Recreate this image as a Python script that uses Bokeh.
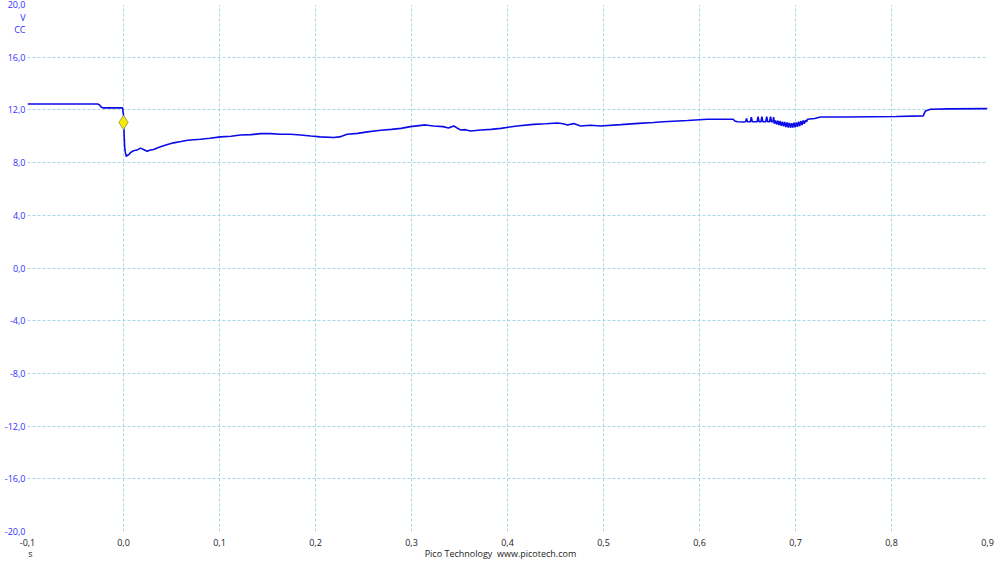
from bokeh.plotting import figure
from bokeh.models import Range1d, FixedTicker, CustomJSTickFormatter, LinearAxis
from bokeh.embed import file_html
from bokeh.resources import INLINE

# ---- data ----
x_ticks = [-0.1, 0.0, 0.1, 0.2, 0.3, 0.4, 0.5, 0.6, 0.7, 0.8, 0.9]
y_ticks = [-20, -16, -12, -8, -4, 0, 4, 8, 12, 16, 20]

time_s = [
    -0.100, -0.027, -0.025, -0.023, -0.021, -0.001, 0.0000, 0.0006, 0.0012, 0.0020,
    0.0030, 0.0039, 0.0055, 0.0073, 0.0104, 0.0140, 0.0177, 0.0208, 0.0247, 0.0280,
    0.0313, 0.0385, 0.0450, 0.0521, 0.0600, 0.0667, 0.0802, 0.0900, 0.1010, 0.1120,
    0.1219, 0.1330, 0.1427, 0.1530, 0.1635, 0.1740, 0.1844, 0.1950, 0.2050, 0.2190,
    0.2250, 0.2330, 0.2440, 0.2540, 0.2680, 0.2790, 0.2890, 0.2990, 0.3146, 0.3230,
    0.3330, 0.3385, 0.3440, 0.3470, 0.3510, 0.3560, 0.3615, 0.3720, 0.3830, 0.3930,
    0.4100, 0.4270, 0.4400, 0.4520, 0.4580, 0.4625, 0.4690, 0.4760, 0.4865, 0.4970,
    0.5180, 0.5365, 0.5520, 0.5625, 0.5875, 0.6080, 0.6250, 0.6350, 0.6370, 0.6396,
    0.6460, 0.6480, 0.6490, 0.6500, 0.6530, 0.6540, 0.6550, 0.6600, 0.6610, 0.6620,
    0.6640, 0.6650, 0.6660, 0.6690, 0.6700, 0.6710, 0.6730, 0.6740, 0.6750, 0.6765,
    0.6772, 0.6780, 0.6792, 0.6804, 0.6816, 0.6828, 0.6840, 0.6852, 0.6864, 0.6876,
    0.6888, 0.6900, 0.6912, 0.6924, 0.6936, 0.6948, 0.6960, 0.6972, 0.6984, 0.6996,
    0.7008, 0.7020, 0.7032, 0.7044, 0.7056, 0.7068, 0.7080, 0.7092, 0.7104, 0.7116,
    0.7125, 0.7200, 0.7260, 0.7520, 0.7800, 0.8050, 0.8330, 0.8354, 0.8406, 0.8600,
    0.9000,
]
voltage_v = [
    12.45, 12.45, 12.38, 12.20, 12.15, 12.15, 11.60, 10.20, 9.20, 8.75,
    8.45, 8.56, 8.60, 8.76, 8.90, 8.95, 9.10, 9.00, 8.86, 8.95,
    9.00, 9.20, 9.35, 9.50, 9.60, 9.70, 9.77, 9.85, 9.95, 10.00,
    10.10, 10.12, 10.20, 10.20, 10.15, 10.15, 10.10, 10.02, 9.95, 9.90,
    9.95, 10.15, 10.22, 10.33, 10.45, 10.52, 10.60, 10.73, 10.86, 10.78,
    10.73, 10.62, 10.78, 10.65, 10.48, 10.50, 10.40, 10.48, 10.52, 10.60,
    10.78, 10.90, 10.95, 11.00, 10.95, 10.86, 10.96, 10.78, 10.83, 10.78,
    10.88, 10.98, 11.04, 11.10, 11.20, 11.29, 11.29, 11.29, 11.15, 11.10,
    11.08, 11.10, 11.35, 11.10, 11.10, 11.45, 11.10, 11.10, 11.48, 11.10,
    11.10, 11.48, 11.10, 11.10, 11.48, 11.10, 11.10, 11.48, 11.10, 11.10,
    11.45, 10.95, 11.20, 10.90, 11.18, 10.85, 11.15, 10.80, 11.10, 10.75,
    11.08, 10.70, 11.05, 10.66, 11.02, 10.65, 11.00, 10.66, 11.02, 10.68,
    11.05, 10.72, 11.10, 10.78, 11.15, 10.85, 11.20, 10.95, 11.22, 11.10,
    11.29, 11.35, 11.46, 11.46, 11.48, 11.50, 11.55, 11.92, 12.05, 12.08,
    12.10,
]

trigger_t = [0.0]
trigger_v = [11.05]

# unit / footer texts and where they sit (label anchors)
unit_labels = {"V": 19.02, "CC": 18.10}
x_unit_label = "s"
footer_text = "Pico Technology\u00a0 www.picotech.com"
footer_anchor_x = [-0.0969, 0.3927]

# ---- figure ----
p = figure(
    width=1000, height=562,
    x_range=Range1d(-0.1, 0.9), y_range=Range1d(-20, 20),
    output_backend="svg", toolbar_location=None,
    min_border_left=27, min_border_right=13, min_border_top=4, min_border_bottom=30,
    background_fill_color="white", border_fill_color="white",
)
p.outline_line_color = None

fmt_x = CustomJSTickFormatter(code="return tick.toFixed(1).replace('.', ',');")
fmt_y = CustomJSTickFormatter(
    args=dict(vpos=unit_labels["V"], ccpos=unit_labels["CC"]),
    code="""
    if (Math.abs(tick - vpos) < 1e-6) return 'V';
    if (Math.abs(tick - ccpos) < 1e-6) return 'CC';
    return tick.toFixed(1).replace('.', ',');
    """)

p.xaxis.ticker = FixedTicker(ticks=x_ticks)
p.yaxis.ticker = FixedTicker(ticks=y_ticks + list(unit_labels.values()))
p.xaxis.formatter = fmt_x
p.yaxis.formatter = fmt_y

footer_axis = LinearAxis(
    ticker=FixedTicker(ticks=footer_anchor_x),
    formatter=CustomJSTickFormatter(
        args=dict(s=x_unit_label, f=footer_text),
        code="return tick < 0 ? s : f;"),
)
p.add_layout(footer_axis, "below")

for ax in (p.xaxis[0], p.yaxis[0], footer_axis):
    ax.axis_line_color = None
    ax.major_tick_line_color = None
    ax.minor_tick_line_color = None
    ax.major_tick_out = 0
    ax.major_tick_in = 0
    ax.major_label_text_font = "Open Sans"
    ax.major_label_text_font_size = "9px"
    ax.major_label_text_color = "#222222"
p.yaxis[0].major_label_text_color = "#2f2fff"
p.xaxis[0].major_label_standoff = 7
p.yaxis[0].major_label_standoff = 2
footer_axis.major_label_standoff = -2

p.xgrid.ticker = FixedTicker(ticks=x_ticks)
p.ygrid.ticker = FixedTicker(ticks=y_ticks)
for g in (p.xgrid, p.ygrid):
    g.grid_line_color = "#a9d6e5"
    g.grid_line_dash = "3 2"
    g.grid_line_width = 1

p.line(time_s, voltage_v, line_color="#0b0be8", line_width=1.6)
p.scatter(trigger_t, trigger_v, marker="diamond", size=14,
          fill_color="#f7ec00", line_color="#a0a060", line_width=1)

open("out.html", "w").write(file_html(p, INLINE))
